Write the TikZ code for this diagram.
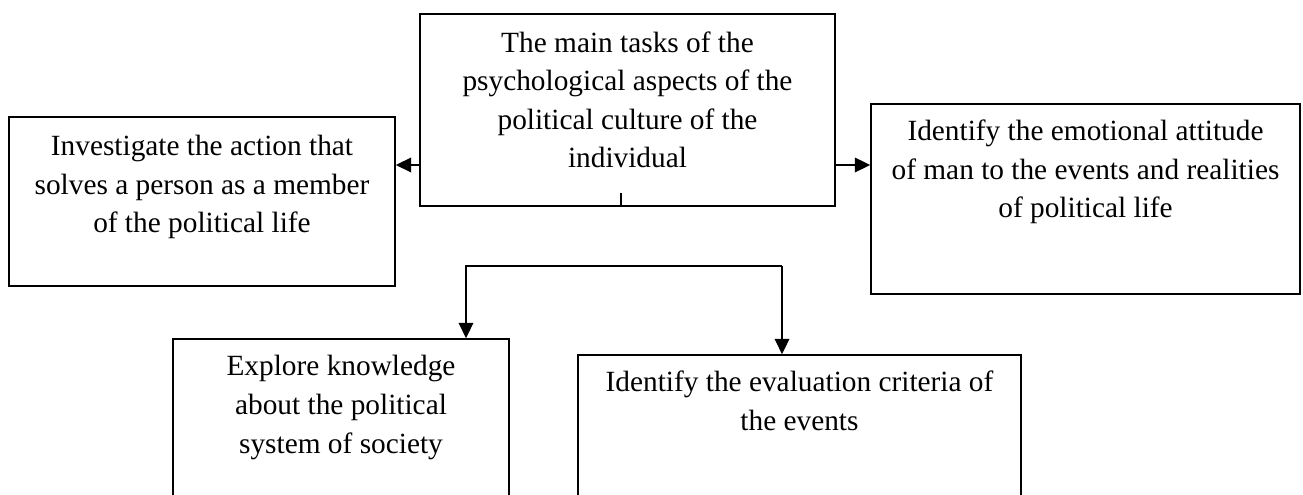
\documentclass[tikz,border=0pt]{standalone}
\usepackage{fontspec}
\setmainfont{Liberation Serif}
\usetikzlibrary{arrows.meta,calc}
\begin{document}
\begin{tikzpicture}[x=0.75pt,y=-0.75pt,
  box/.style={draw,line width=1.3pt,inner sep=0pt},
  txt/.style={anchor=base,align=center,inner sep=0pt,font=\fontsize{22}{28.9}\selectfont},
  arr/.style={line width=1.3pt,-{Triangle[length=11.5pt,width=11pt]}},
  ln/.style={line width=1.3pt}]
\path[use as bounding box,clip] (0,0) rectangle (1303,495);
% boxes
\node[box,minimum width=311.25pt,minimum height=144pt] (c) at (627.5,110) {};
\node[box,minimum width=289.5pt,minimum height=126.75pt] (l) at (202,201.5) {};
\node[box,minimum width=321.75pt,minimum height=142.5pt] (r) at (1085.5,199) {};
\node[box,minimum width=252pt,minimum height=143.25pt] (b1) at (341,434.5) {};
\node[box,minimum width=332.25pt,minimum height=131.25pt] (b2) at (799.5,442.5) {};
% texts (anchored at the baseline of their last line)
\node[txt] (ct) at (627.5,168) {The main tasks of the\\psychological aspects of the\\political culture of the\\individual};
\node[txt] (lt) at (202,233) {Investigate the action that\\solves a person as a member\\of the political life};
\node[txt] (rt) at (1085.5,218) {Identify the emotional attitude\\of man to the events and realities\\of political life};
\node[txt] (b1t) at (341,453) {Explore knowledge\\about the political\\system of society};
\node[txt] (b2t) at (799.5,430) {Identify the evaluation criteria of\\the events};
% connectors
\coordinate (ya) at (0,165);
\draw[arr] (c.west |- ya) -- (l.east |- ya);
\draw[arr] (c.east |- ya) -- (r.west |- ya);
\coordinate (tk) at (621,193);
\draw[ln] (tk) -- (tk |- c.south);
\coordinate (hl) at (466,266);
\coordinate (hr) at (782,266);
\draw[arr,line join=miter] (hr) -- (hl) -- (hl |- b1.north);
\draw[arr] (hr) -- (hr |- b2.north);
\end{tikzpicture}
\end{document}
